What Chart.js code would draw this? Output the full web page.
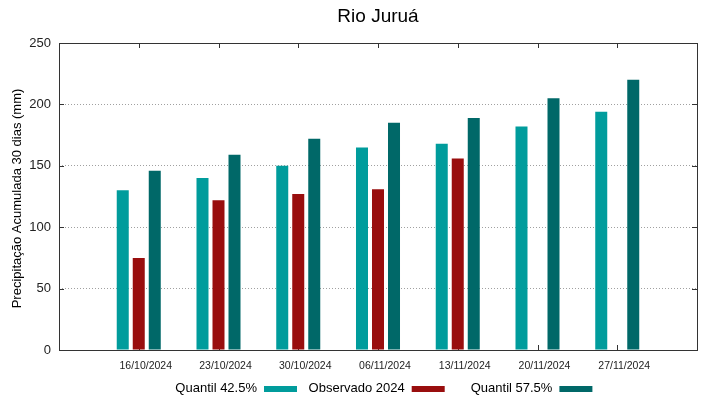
<!DOCTYPE html>
<html>
<head>
<meta charset="utf-8">
<script src="https://cdn.jsdelivr.net/npm/chart.js@4"></script>
<style>
  html, body { margin: 0; padding: 0; background: #fff; }
  #wrap { width: 719px; height: 399px; }
</style>
</head>
<body>
<div id="wrap"><canvas id="chuvaChart" width="719" height="399"></canvas></div>
<script>
// Dados
var chartTitle = "Rio Juruá";
var yTitle = "Precipitação Acumulada 30 dias (mm)";
var dates = ["16/10/2024", "23/10/2024", "30/10/2024", "06/11/2024", "13/11/2024", "20/11/2024", "27/11/2024"];
var quantil425 = [130, 140, 150, 165, 168, 182, 194];
var observado = [75, 122, 127, 131, 156, null, null];
var quantil575 = [146, 159, 172, 185, 189, 205, 220];
var yTicks = [0, 50, 100, 150, 200, 250];
var seriesNames = ["Quantil 42.5%", "Observado 2024", "Quantil 57.5%"];
var seriesColors = ["#009c9c", "#990e0e", "#006868"];

function toPoints(arr) {
    return arr.map(function(v, i) { return { x: i, y: v }; });
}

// Moldura, marcas internas, título e legenda (estilo gnuplot)
var gnuplotFrame = {
    id: 'gnuplotFrame',
    beforeDatasetsDraw: function(chart) {
        var ctx = chart.ctx, a = chart.chartArea;
        var xs = chart.scales.x, ys = chart.scales.y;
        ctx.save();
        ctx.strokeStyle = '#333';
        ctx.lineWidth = 1;
        ctx.beginPath();
        yTicks.forEach(function(t) {
            var y = Math.round(ys.getPixelForValue(t)) + 0.5;
            ctx.moveTo(a.left, y); ctx.lineTo(a.left + 5, y);
            ctx.moveTo(a.right, y); ctx.lineTo(a.right - 5, y);
        });
        dates.forEach(function(d, i) {
            var x = Math.round(xs.getPixelForValue(i)) + 0.5;
            ctx.moveTo(x, a.top); ctx.lineTo(x, a.top + 5);
            ctx.moveTo(x, a.bottom); ctx.lineTo(x, a.bottom - 5);
        });
        ctx.stroke();
        ctx.restore();
    },
    afterDraw: function(chart) {
        var ctx = chart.ctx, a = chart.chartArea;
        ctx.save();
        ctx.strokeStyle = '#333';
        ctx.lineWidth = 1;
        ctx.strokeRect(Math.round(a.left) + 0.5, Math.round(a.top) + 0.5,
                       Math.round(a.right - a.left), Math.round(a.bottom - a.top));

        ctx.fillStyle = '#000';
        ctx.textAlign = 'center';
        ctx.textBaseline = 'middle';
        ctx.font = '19px "Liberation Sans", Arial, sans-serif';
        ctx.fillText(chartTitle, (a.left + a.right) / 2, 16.5);

        ctx.save();
        ctx.translate(17, (a.top + a.bottom) / 2 + 2);
        ctx.rotate(-Math.PI / 2);
        ctx.font = '13px "Liberation Sans", Arial, sans-serif';
        ctx.fillText(yTitle, 0, 0);
        ctx.restore();

        ctx.font = '13px "Liberation Sans", Arial, sans-serif';
        ctx.textAlign = 'right';
        seriesNames.forEach(function(name, i) {
            var sx = 264 + 147.7 * i;
            ctx.fillStyle = '#000';
            ctx.fillText(name, sx - 7, 388);
            ctx.fillStyle = seriesColors[i];
            ctx.fillRect(sx, 386, 33, 6);
        });
        ctx.restore();
    }
};

document.addEventListener('DOMContentLoaded', function() {
    var ctx = document.getElementById("chuvaChart");
    var barOpts = { categoryPercentage: 0.602, barPercentage: 0.75, borderWidth: 0 };
    new Chart(ctx, {
        type: 'bar',
        data: {
            datasets: [
                Object.assign({ label: seriesNames[0], data: toPoints(quantil425), backgroundColor: seriesColors[0] }, barOpts),
                Object.assign({ label: seriesNames[1], data: toPoints(observado), backgroundColor: seriesColors[1] }, barOpts),
                Object.assign({ label: seriesNames[2], data: toPoints(quantil575), backgroundColor: seriesColors[2] }, barOpts)
            ]
        },
        options: {
            responsive: false,
            animation: false,
            layout: { padding: { top: 43, right: 22, bottom: 0, left: 0 } },
            scales: {
                x: {
                    type: 'linear',
                    min: -1,
                    max: 7,
                    offset: false,
                    afterFit: function(s) { s.height = 49; },
                    grid: { display: false, drawTicks: false, offset: false },
                    border: { display: false },
                    ticks: {
                        stepSize: 1,
                        autoSkip: false,
                        maxRotation: 0,
                        padding: 10,
                        labelOffset: 7,
                        color: '#222',
                        font: { family: '"Liberation Sans", Arial, sans-serif', size: 10.5 },
                        callback: function(v) { return dates[v] !== undefined ? dates[v] : ''; }
                    }
                },
                y: {
                    min: 0,
                    max: 250,
                    afterFit: function(s) { s.width = 59; },
                    grid: {
                        drawTicks: false,
                        color: function(c) {
                            var v = c.tick ? c.tick.value : 0;
                            return (v === 0 || v === 250) ? 'rgba(0,0,0,0)' : '#a0a0a0';
                        }
                    },
                    border: { display: false, dash: [1, 2] },
                    ticks: {
                        stepSize: 50,
                        padding: 8,
                        color: '#222',
                        font: { family: '"Liberation Sans", Arial, sans-serif', size: 13 }
                    }
                }
            },
            plugins: {
                legend: { display: false },
                title: { display: false },
                tooltip: { enabled: false }
            }
        },
        plugins: [gnuplotFrame]
    });
});
</script>
</body>
</html>
